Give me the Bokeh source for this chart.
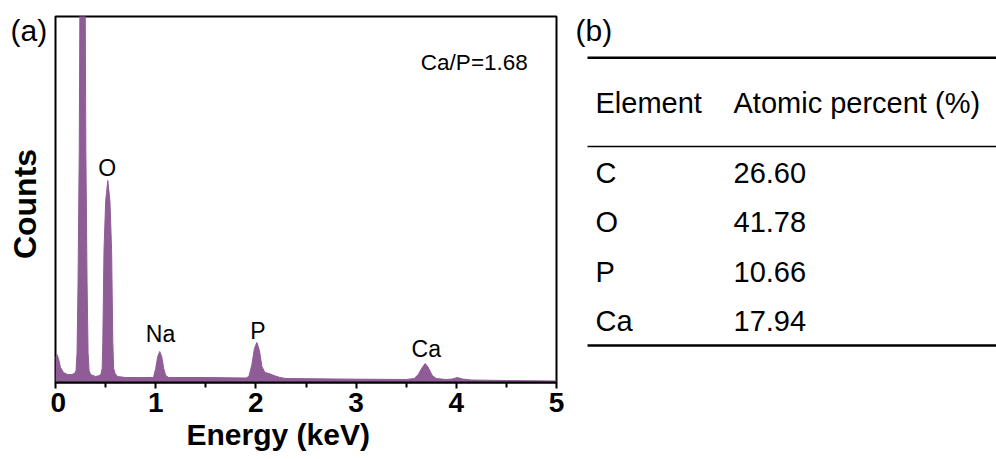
from math import pi
from bokeh.plotting import figure
from bokeh.models import Range1d, FixedTicker, Title, ColumnDataSource
from bokeh.layouts import row
from bokeh.embed import file_html
from bokeh.resources import INLINE
from bokeh.core.properties import value

# ---------------- data ----------------
energy_kev = [0.000, 0.015, 0.030, 0.050, 0.080, 0.120, 0.160, 0.190, 0.205, 0.215,
              0.225, 0.237, 0.243, 0.255, 0.270, 0.285, 0.297, 0.303, 0.315, 0.325,
              0.335, 0.350, 0.400, 0.440, 0.455, 0.466, 0.472, 0.484, 0.501, 0.522,
              0.543, 0.560, 0.572, 0.580, 0.595, 0.620, 0.700, 0.850, 0.970, 0.980,
              1.000, 1.020, 1.040, 1.060, 1.080, 1.100, 1.130, 1.500, 1.900, 1.930,
              1.960, 1.985, 2.010, 2.035, 2.060, 2.090, 2.130, 2.180, 2.240, 2.300,
              2.800, 3.500, 3.580, 3.620, 3.660, 3.690, 3.720, 3.760, 3.800, 3.900,
              3.960, 4.010, 4.060, 4.150, 4.500, 5.000]
counts = [24, 28, 24, 15, 10, 8, 8, 9, 12, 30,
          100, 232, 366, 480, 520, 480, 366, 232, 100, 30,
          12, 8, 6, 7, 9, 14, 40, 132, 182, 202,
          182, 132, 40, 14, 9, 6, 5, 5, 5, 6,
          14, 26, 31, 26, 14, 7, 5, 5, 4.5, 6,
          18, 34, 40, 32, 16, 10, 9, 7, 5, 4,
          3.5, 3, 4, 8, 15, 19, 15, 7, 4, 3,
          3.5, 5, 3.5, 2.5, 2, 1.5]

x_ticks = [0, 1, 2, 3, 4, 5]
x_minor_ticks = [0.5, 1.5, 2.5, 3.5, 4.5]

peak_names = ["O", "Na", "P", "Ca"]
peak_label_kev = [0.516, 1.048, 2.021, 3.700]
peak_label_counts = [214.5, 48.7, 51.3, 33.7]

ratio_text = "Ca/P=1.68"
ratio_kev = 4.18
ratio_counts = 320.3

table_header = ["Element", "Atomic percent (%)"]
elements = ["C", "O", "P", "Ca"]
atomic_percent = ["26.60", "41.78", "10.66", "17.94"]

# ---------------- style / layout ----------------
FONT = "Liberation Sans"
PURPLE = "#8F5C97"
H = 459
TOP, BOTTOM = 16, 77          # frame spans page y 16 .. 382
W0, W1, W2 = 50, 524, 422     # side strip, spectrum, table


def blank(width):
    f = figure(width=width, height=H, output_backend="svg", toolbar_location=None,
               x_axis_location=None, y_axis_location=None,
               x_range=Range1d(0, width), y_range=Range1d(H - BOTTOM, TOP),
               min_border_left=0, min_border_right=0,
               min_border_top=TOP, min_border_bottom=BOTTOM)
    f.grid.visible = False
    f.outline_line_color = None
    f.background_fill_color = "white"
    f.border_fill_color = "white"
    return f


# ---------------- left strip: panel letter and y-axis title ----------------
p0 = blank(W0)
p0.text(x=[10], y=[30], text=["(a)"], text_font=value(FONT), text_font_size="30px",
        text_align="left", text_baseline="middle", text_color="black")
p0.text(x=[24], y=[203.5], text=["Counts"], angle=pi / 2, text_font=value(FONT),
        text_font_style="bold", text_font_size="32px", text_align="center",
        text_baseline="middle", text_color="black")

# ---------------- panel (a): EDS spectrum ----------------
p1 = figure(width=W1, height=H, output_backend="svg", toolbar_location=None,
            x_range=Range1d(0, 5), y_range=Range1d(0, 366), y_axis_location=None,
            min_border_left=5, min_border_right=18, min_border_top=TOP,
            min_border_bottom=BOTTOM)
p1.grid.visible = False
p1.outline_line_color = "black"
p1.outline_line_width = 2
p1.outline_line_alpha = 1
p1.background_fill_color = "white"
p1.border_fill_color = "white"

src = ColumnDataSource(dict(x=energy_kev, y=counts))
p1.varea(x="x", y1=0, y2="y", source=src, fill_color=PURPLE)
p1.line(x="x", y="y", source=src, line_color=PURPLE, line_width=1)

xa = p1.xaxis[0]
xa.ticker = FixedTicker(ticks=x_ticks, minor_ticks=x_minor_ticks)
xa.axis_line_width = 2
xa.major_tick_line_width = 2
xa.minor_tick_line_width = 2
xa.major_tick_in = 0
xa.major_tick_out = 6
xa.minor_tick_in = 0
xa.minor_tick_out = 5
xa.major_label_standoff = 4
xa.major_label_text_font = FONT
xa.major_label_text_font_style = "bold"
xa.major_label_text_font_size = "28px"
xa.major_label_text_color = "black"

xtitle = Title(text="Energy (keV)", align="left", offset=131, standoff=2,
               text_font=FONT, text_font_style="bold", text_font_size="30px",
               text_color="black")
p1.add_layout(xtitle, "below")

lab_src = ColumnDataSource(dict(x=peak_label_kev, y=peak_label_counts, t=peak_names))
p1.text(x="x", y="y", text="t", source=lab_src, text_font=value(FONT),
        text_font_size="23px", text_align="center", text_baseline="middle",
        text_color="black")
p1.text(x=[ratio_kev], y=[ratio_counts], text=[ratio_text], text_font=value(FONT),
        text_font_size="22.5px", text_align="center", text_baseline="middle",
        text_color="black")

# ---------------- panel (b): table ----------------
p2 = blank(W2)
col_x = [21, 159]
rule_x0, rule_x1 = 13, W2
header_mid = 102.8
row_mid0, row_step = 172.2, 49.4
rules_y = [57.3, 146.0, 345.0]
rules_w = [2.6, 1.3, 2.6]

p2.text(x=[1], y=[30], text=["(b)"], text_font=value(FONT), text_font_size="30px",
        text_align="left", text_baseline="middle", text_color="black")
p2.segment(x0=[rule_x0] * 3, x1=[rule_x1] * 3, y0=rules_y, y1=rules_y,
           line_color="black", line_width=rules_w)
p2.text(x=col_x, y=[header_mid] * 2, text=table_header, text_font=value(FONT),
        text_font_size="29px", text_baseline="middle", text_color="black")
row_y = [row_mid0 + i * row_step for i in range(len(elements))]
p2.text(x=[col_x[0]] * len(elements), y=row_y, text=elements, text_font=value(FONT),
        text_font_size="29px", text_baseline="middle", text_color="black")
p2.text(x=[col_x[1]] * len(elements), y=row_y, text=atomic_percent, text_font=value(FONT),
        text_font_size="29px", text_baseline="middle", text_color="black")

layout = row(p0, p1, p2)
open("out.html", "w").write(file_html(layout, INLINE))
